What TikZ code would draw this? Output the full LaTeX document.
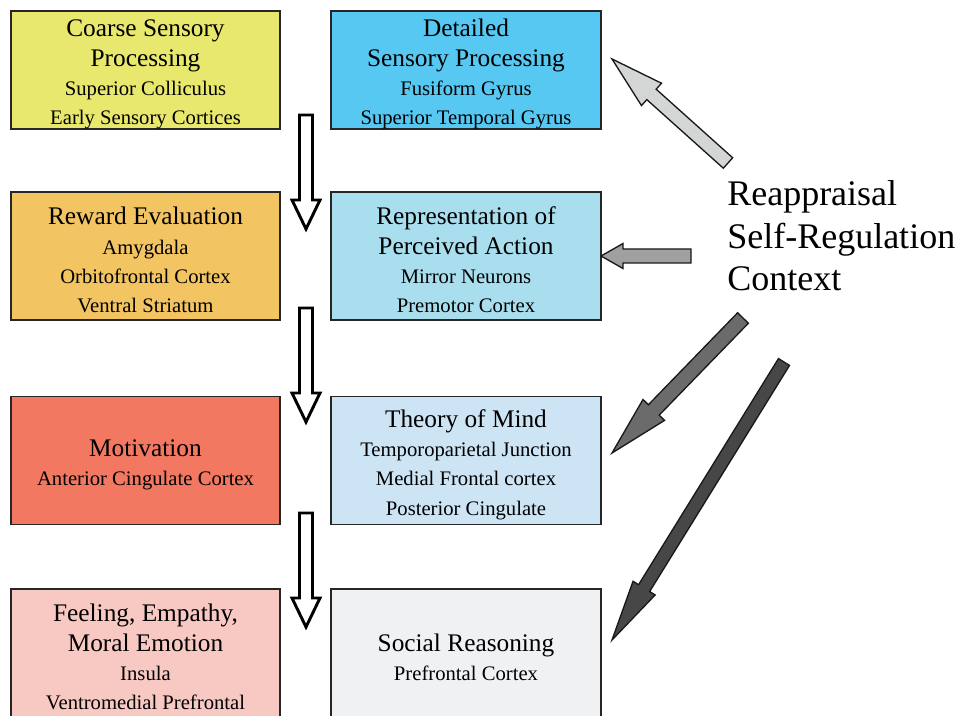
\documentclass[tikz,border=0pt]{standalone}
\usepackage{fontspec}
\setmainfont{Liberation Serif}
\usetikzlibrary{calc}
\definecolor{cCoarse}{HTML}{E8E86E}
\definecolor{cDetail}{HTML}{56C8F2}
\definecolor{cReward}{HTML}{F2C462}
\definecolor{cRepr}{HTML}{A9DEEE}
\definecolor{cMotiv}{HTML}{F27862}
\definecolor{cTom}{HTML}{CDE4F4}
\definecolor{cFeel}{HTML}{F8C8C2}
\definecolor{cSocial}{HTML}{F0F1F3}
\definecolor{gA}{HTML}{D4D6D6}
\definecolor{gB}{HTML}{A0A0A0}
\definecolor{gC}{HTML}{6B6B6B}
\definecolor{gD}{HTML}{474747}
\tikzset{
  box/.style={draw=black!85, line width=1.2pt, align=center, inner sep=0pt,
    font=\fontsize{15.5}{22}\selectfont},
  leftcol/.style={minimum width=201.75pt},
  rightcol/.style={minimum width=202.5pt},
  rowone/.style={minimum height=87pt},
  rowstd/.style={minimum height=96pt},
  hollow/.style={draw=black, line width=2.2pt, fill=white, line join=miter},
  grayarrow/.style={draw=black!90, line width=1pt, line join=miter},
}
\newcommand{\ttl}[1]{{\fontsize{19}{22}\selectfont #1}}
\newcommand{\tstrut}{\rule{0pt}{19.5pt}}
% #1 style, #2 tail, #3 tip, #4 half shaft, #5 half head, #6 head length (px)
\newcommand{\blockarrow}[6]{%
  \draw[#1] let \p1=(#2), \p2=(#3),
    \n1={atan2(\y2-\y1,\x2-\x1)}, \n2={veclen(\x2-\x1,\y2-\y1)} in
    ($(\p1)+({\n1+90}:{#4*0.75pt})$) --
    ($(\p1)+({\n1}:{\n2*1pt-#6*0.75pt})+({\n1+90}:{#4*0.75pt})$) --
    ($(\p1)+({\n1}:{\n2*1pt-#6*0.75pt})+({\n1+90}:{#5*0.75pt})$) --
    (\p2) --
    ($(\p1)+({\n1}:{\n2*1pt-#6*0.75pt})+({\n1-90}:{#5*0.75pt})$) --
    ($(\p1)+({\n1}:{\n2*1pt-#6*0.75pt})+({\n1-90}:{#4*0.75pt})$) --
    ($(\p1)+({\n1-90}:{#4*0.75pt})$) -- cycle;}
\begin{document}
\begin{tikzpicture}[x=0.75pt,y=-0.75pt]
\useasboundingbox (0,0) rectangle (960,716);
\clip (0,0) rectangle (960,716);
\fill[white] (0,0) rectangle (960,716);

\node[box,leftcol,rowone,fill=cCoarse] (coarse) at (145.5,70)
  {\tstrut\ttl{Coarse Sensory}\\\ttl{Processing}\\Superior Colliculus\\Early Sensory Cortices};
\node[box,rightcol,rowone,fill=cDetail] (detailed) at (466,70)
  {\tstrut\ttl{Detailed}\\\ttl{Sensory Processing}\\Fusiform Gyrus\\Superior Temporal Gyrus};
\node[box,leftcol,rowstd,fill=cReward] (reward) at (145.5,256)
  {\tstrut\ttl{Reward Evaluation}\\Amygdala\\Orbitofrontal Cortex\\Ventral Striatum};
\node[box,rightcol,rowstd,fill=cRepr] (repr) at (466,256)
  {\tstrut\ttl{Representation of}\\\ttl{Perceived Action}\\Mirror Neurons\\Premotor Cortex};
\node[box,leftcol,rowstd,fill=cMotiv] (motiv) at (145.5,460.5)
  {\tstrut\ttl{Motivation}\\Anterior Cingulate Cortex};
\node[box,rightcol,rowstd,fill=cTom] (tom) at (466,460.5)
  {\tstrut\ttl{Theory of Mind}\\Temporoparietal Junction\\Medial Frontal cortex\\Posterior Cingulate};
\node[box,leftcol,rowstd,fill=cFeel] (feeling) at (145.5,653)
  {\tstrut\ttl{Feeling, Empathy,}\\\ttl{Moral Emotion}\\Insula\\Ventromedial Prefrontal};
\node[box,rightcol,rowstd,fill=cSocial] (social) at (466,653)
  {\tstrut\ttl{Social Reasoning}\\Prefrontal Cortex};

\node[anchor=west, align=left, inner sep=0pt, font=\fontsize{27}{32}\selectfont]
  (reapp) at (727,236) {Reappraisal\\Self-Regulation\\Context};

% hollow down arrows
\coordinate (d1t) at (306,115); \coordinate (d1h) at (306,229);
\coordinate (d2t) at (306,308); \coordinate (d2h) at (306,422);
\coordinate (d3t) at (306,513); \coordinate (d3h) at (306,627);
\blockarrow{hollow}{d1t}{d1h}{6.5}{14}{29}
\blockarrow{hollow}{d2t}{d2h}{6.5}{14}{29}
\blockarrow{hollow}{d3t}{d3h}{6.5}{14}{29}

% gray arrows from the regulation text
\coordinate (aT) at (728,163); \coordinate (aH) at (612,59);
\coordinate (bT) at (691,256); \coordinate (bH) at (601,256);
\coordinate (cT) at (743,318); \coordinate (cH) at (612,453);
\coordinate (dT) at (784,362); \coordinate (dH) at (612,640);
\blockarrow{grayarrow,fill=gA}{aT}{aH}{7}{15}{53}
\blockarrow{grayarrow,fill=gB}{bT}{bH}{7}{12.5}{22}
\blockarrow{grayarrow,fill=gC}{cT}{cH}{7.5}{15}{60}
\blockarrow{grayarrow,fill=gD}{dT}{dH}{6.5}{13}{61}
\end{tikzpicture}
\end{document}
